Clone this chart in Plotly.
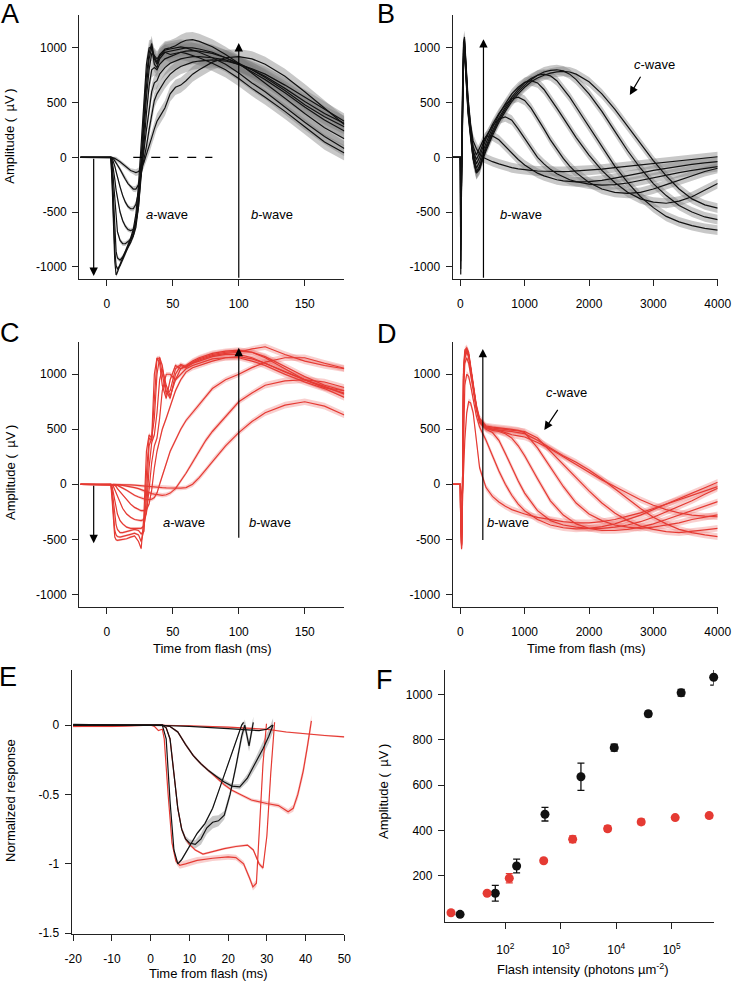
import plotly.graph_objects as go

# ======================= DATA =======================
# Panel A (black ERG, 0-180 ms)
tA = [-20, 3, 4, 5, 6, 7, 8, 10, 12, 14, 16, 18, 20, 22, 24, 26, 28, 30, 32, 34, 36, 38, 40, 44, 48, 52, 56, 60, 65, 70, 80, 90, 100, 110, 120, 135, 150, 165, 180]
A1 = [0, 0, -250, -650, -950, -1075, -1050, -980, -920, -860, -800, -740, -660, -520, -250, 150, 550, 850, 1000, 1010, 850, 820, 900, 960, 940, 950, 960, 950, 930, 910, 860, 800, 720, 630, 550, 420, 280, 140, 40]
A2 = [0, 0, -200, -550, -850, -990, -1020, -990, -940, -880, -820, -760, -690, -580, -350, 0, 400, 750, 950, 1040, 900, 850, 920, 980, 990, 1000, 1010, 1000, 980, 960, 910, 850, 770, 680, 600, 460, 320, 190, 80]
A3 = [0, 0, -120, -400, -700, -860, -920, -940, -910, -870, -830, -780, -720, -600, -400, -100, 300, 650, 900, 1000, 920, 870, 940, 990, 1000, 1020, 1050, 1070, 1075, 1060, 1010, 940, 860, 770, 680, 540, 400, 270, 170]
A4 = [0, 0, -60, -220, -420, -580, -680, -760, -790, -790, -770, -750, -720, -640, -450, -150, 200, 550, 800, 950, 930, 900, 930, 960, 970, 980, 990, 1000, 1000, 990, 960, 910, 850, 780, 710, 590, 460, 340, 240]
A5 = [0, 0, -30, -100, -200, -300, -380, -500, -580, -630, -660, -670, -660, -600, -450, -200, 100, 400, 650, 800, 820, 800, 850, 900, 920, 940, 960, 970, 975, 970, 950, 910, 860, 800, 730, 610, 480, 370, 280]
A6 = [0, 0, -10, -40, -80, -130, -180, -270, -350, -410, -450, -470, -470, -430, -320, -150, 50, 250, 450, 600, 680, 700, 760, 820, 860, 880, 900, 910, 920, 920, 910, 890, 850, 800, 740, 630, 510, 400, 310]
A7 = [0, 0, 0, -15, -30, -50, -70, -110, -160, -200, -240, -270, -290, -290, -250, -150, -30, 100, 250, 400, 520, 580, 620, 700, 760, 800, 830, 850, 870, 880, 890, 880, 850, 810, 760, 660, 550, 440, 330]
A8 = [0, 0, 0, -5, -10, -15, -25, -40, -60, -80, -100, -120, -130, -140, -130, -100, -50, 20, 100, 180, 260, 330, 370, 450, 580, 640, 660, 700, 760, 800, 870, 910, 920, 900, 850, 740, 600, 450, 300]
semA = [0, 0, 5, 10, 15, 20, 20, 20, 20, 20, 20, 20, 25, 30, 35, 40, 50, 60, 70, 70, 70, 70, 70, 70, 70, 70, 70, 70, 70, 70, 70, 70, 70, 70, 70, 70, 70, 70, 70]

# Panel B (black ERG, 0-4000 ms)
tB = [-120, 0, 3, 7, 15, 30, 50, 65, 90, 120, 160, 200, 250, 300, 350, 400, 500, 600, 700, 800, 900, 1000, 1100, 1200, 1300, 1400, 1500, 1600, 1700, 1800, 2000, 2200, 2400, 2600, 2800, 3000, 3200, 3400, 3600, 3800, 4000]
B1 = [0, 0, -500, -1070, -500, 500, 1050, 1100, 850, 550, 300, 150, 80, 30, 0, -15, -40, -60, -80, -95, -105, -115, -120, -125, -128, -130, -130, -130, -128, -125, -118, -108, -95, -82, -70, -58, -45, -33, -22, -10, 5]
B2 = [0, 0, -450, -1020, -480, 450, 1000, 1080, 820, 520, 280, 100, 20, 80, 150, 190, 195, 160, 100, 40, -20, -70, -110, -145, -170, -190, -205, -215, -222, -225, -222, -210, -190, -170, -145, -120, -100, -80, -65, -50, -40]
B3 = [0, 0, -350, -950, -450, 400, 980, 1060, 800, 500, 260, 60, -20, 40, 120, 190, 290, 350, 370, 340, 260, 170, 80, 0, -60, -110, -150, -180, -205, -222, -245, -255, -250, -235, -210, -185, -160, -140, -120, -100, -85]
B4 = [0, 0, -250, -850, -420, 350, 950, 1040, 780, 480, 250, 40, -60, 0, 90, 170, 300, 400, 480, 535, 550, 520, 450, 360, 260, 160, 70, -10, -80, -140, -230, -290, -320, -330, -320, -290, -250, -210, -170, -130, -100]
B5 = [0, 0, -150, -700, -400, 300, 920, 1020, 760, 460, 230, 20, -100, -40, 50, 130, 270, 390, 490, 580, 640, 685, 700, 680, 620, 540, 450, 360, 270, 180, 20, -120, -230, -320, -380, -410, -420, -400, -360, -300, -240]
B6 = [0, 0, -80, -500, -350, 250, 900, 1000, 750, 440, 220, 0, -130, -80, 20, 100, 240, 360, 460, 550, 620, 680, 720, 750, 760, 745, 700, 630, 550, 460, 280, 90, -80, -230, -360, -460, -540, -590, -625, -650, -665]
B7 = [0, 0, -40, -300, -250, 200, 880, 980, 730, 420, 200, -10, -140, -100, 0, 80, 220, 340, 440, 530, 600, 660, 710, 750, 780, 795, 800, 790, 760, 710, 580, 420, 240, 60, -100, -240, -350, -440, -500, -545, -570]
B8 = [0, 0, -20, -150, -150, 100, 850, 960, 700, 400, 180, -20, -145, -110, -20, 60, 200, 320, 420, 510, 580, 640, 690, 725, 750, 770, 780, 785, 780, 760, 690, 580, 440, 280, 120, -30, -170, -290, -380, -435, -465]
semB = [0, 0, 20, 30, 40, 50, 60, 60, 60, 60, 60, 60, 60, 50, 45, 45, 45, 45, 45, 45, 45, 45, 45, 45, 45, 45, 45, 45, 45, 45, 45, 45, 45, 45, 45, 45, 45, 45, 45, 45, 45]

# Panel C (red ERG, 0-180 ms)
tC = [-20, 3, 4, 5, 6, 7, 8, 10, 12, 15, 18, 21, 24, 26, 28, 30, 32, 34, 36, 38, 40, 42, 45, 48, 52, 56, 60, 65, 70, 75, 80, 90, 100, 110, 120, 135, 150, 165, 180]
C1 = [0, 0, -150, -380, -480, -505, -510, -505, -500, -495, -480, -470, -520, -585, -300, 300, 450, 420, 1000, 1150, 1100, 900, 780, 950, 1080, 1050, 1080, 1120, 1150, 1170, 1190, 1210, 1220, 1200, 1150, 1050, 950, 880, 830]
C2 = [0, 0, -100, -300, -420, -460, -475, -480, -475, -465, -455, -445, -460, -520, -420, 100, 420, 400, 800, 1140, 1150, 1000, 820, 850, 1050, 1090, 1070, 1110, 1140, 1160, 1180, 1200, 1210, 1200, 1160, 1070, 980, 900, 850]
C3 = [0, 0, -50, -180, -300, -370, -410, -440, -440, -430, -420, -410, -420, -450, -430, -100, 350, 420, 600, 1000, 1150, 1080, 850, 780, 1000, 1080, 1060, 1100, 1130, 1150, 1170, 1190, 1200, 1230, 1250, 1180, 1120, 1080, 1050]
C4 = [0, 0, -20, -80, -150, -220, -270, -330, -360, -390, -400, -400, -400, -400, -380, -250, 150, 380, 450, 650, 950, 1050, 900, 800, 950, 1050, 1070, 1100, 1120, 1140, 1160, 1180, 1180, 1150, 1100, 1020, 950, 890, 820]
C5 = [0, 0, -5, -20, -50, -80, -110, -170, -220, -270, -300, -320, -330, -330, -320, -260, -50, 200, 350, 420, 600, 850, 1000, 1000, 950, 1000, 1050, 1080, 1100, 1120, 1140, 1150, 1160, 1140, 1100, 1020, 950, 880, 850]
C6 = [0, 0, 0, -5, -10, -20, -40, -70, -100, -140, -180, -210, -230, -240, -240, -230, -180, -50, 150, 300, 400, 500, 600, 700, 850, 950, 1020, 1060, 1080, 1100, 1120, 1150, 1150, 1120, 1080, 1000, 930, 870, 790]
C7 = [0, 0, 0, 0, 0, -5, -10, -20, -35, -55, -80, -100, -115, -125, -135, -140, -140, -135, -120, -80, 0, 80, 200, 300, 400, 500, 580, 650, 720, 800, 870, 950, 1000, 1060, 1110, 1150, 1150, 1100, 1055]
C8 = [0, 0, 0, 0, 0, 0, 0, -5, -10, -15, -22, -30, -40, -50, -60, -70, -80, -85, -90, -95, -100, -100, -95, -80, -40, 30, 100, 200, 300, 400, 480, 620, 750, 830, 900, 940, 950, 930, 880]
C9 = [0, 0, 0, 0, 0, 0, 0, 0, 0, 0, -5, -8, -12, -14, -16, -18, -20, -22, -24, -26, -28, -30, -32, -34, -35, -35, -30, 0, 60, 130, 210, 350, 470, 570, 650, 720, 750, 710, 630]
semC = [0, 0, 5, 10, 10, 10, 10, 10, 10, 10, 10, 10, 10, 15, 15, 20, 20, 20, 20, 20, 20, 20, 20, 20, 20, 20, 20, 25, 25, 25, 25, 25, 25, 25, 30, 30, 30, 30, 30]

# Panel D (red ERG, 0-4000 ms)
tD = [-120, 0, 5, 10, 20, 30, 50, 70, 100, 130, 160, 200, 250, 300, 400, 500, 600, 700, 800, 900, 1000, 1200, 1400, 1600, 1800, 2000, 2200, 2400, 2600, 2800, 3000, 3200, 3400, 3600, 3800, 4000]
D1 = [0, 0, -20, -50, -120, -130, 100, 400, 650, 750, 740, 650, 400, 150, -30, -110, -160, -200, -230, -250, -270, -300, -320, -340, -350, -350, -340, -320, -290, -260, -220, -180, -140, -100, -60, -21]
D2 = [0, 0, -100, -300, -450, -300, 500, 900, 1000, 980, 900, 780, 620, 520, 400, 260, 120, 0, -100, -180, -240, -320, -370, -395, -405, -400, -385, -360, -320, -280, -230, -180, -130, -80, -30, 18]
D3 = [0, 0, -200, -450, -550, -350, 800, 1100, 1150, 1100, 1000, 850, 680, 560, 500, 470, 400, 280, 150, 30, -80, -240, -330, -370, -390, -400, -400, -390, -370, -340, -300, -250, -200, -150, -90, -36]
D4 = [0, 0, -300, -520, -590, -300, 1000, 1200, 1230, 1180, 1050, 880, 700, 580, 510, 490, 480, 460, 420, 350, 260, 50, -150, -280, -360, -400, -420, -420, -410, -390, -360, -320, -280, -240, -200, -158]
D5 = [0, 0, -300, -500, -580, -300, 1050, 1220, 1240, 1200, 1080, 900, 720, 600, 530, 520, 515, 510, 500, 490, 470, 330, 150, -20, -170, -270, -330, -370, -390, -400, -390, -370, -350, -320, -300, -278]
D6 = [0, 0, -280, -480, -560, -280, 1000, 1180, 1220, 1180, 1060, 880, 700, 580, 520, 510, 505, 500, 495, 490, 480, 420, 300, 180, 60, -60, -170, -260, -330, -380, -410, -430, -440, -430, -415, -400]
D7 = [0, 0, -250, -460, -540, -250, 950, 1150, 1200, 1160, 1040, 860, 690, 570, 510, 500, 495, 490, 480, 470, 460, 400, 330, 260, 200, 130, 50, -40, -130, -220, -300, -360, -410, -440, -460, -476]
D8 = [0, 0, -260, -470, -550, -260, 980, 1170, 1210, 1170, 1050, 870, 700, 580, 520, 500, 490, 470, 450, 440, 430, 380, 320, 250, 180, 110, 40, -20, -80, -140, -190, -230, -260, -280, -290, -295]
semD = [0, 0, 10, 15, 20, 20, 30, 30, 30, 30, 30, 30, 30, 30, 30, 30, 30, 30, 30, 30, 30, 30, 30, 30, 30, 30, 30, 30, 30, 30, 30, 30, 30, 30, 30, 30]

# Panel E (normalized a-waves)
EK1_t = [-20, 0, 3, 4, 5, 6, 7, 8, 10, 12, 14, 16, 18, 20, 22, 23.5, 24]
EK1_v = [0, 0, 0, -0.1, -0.55, -0.9, -1.0, -0.97, -0.87, -0.78, -0.71, -0.6, -0.44, -0.28, -0.12, 0.0, 0.02]
EK1_s = [0, 0, 0, 0.005, 0.01, 0.01, 0.01, 0.01, 0.01, 0.01, 0.01, 0.01, 0.01, 0.01, 0.01, 0.01, 0.01]
EK2_t = [-20, 0, 3, 4, 5, 6, 7, 8, 9, 10, 11.5, 13, 14.5, 16, 17.5, 19, 20.5, 22, 23.5, 24.3, 25.4, 26.5]
EK2_v = [0, 0, 0, -0.02, -0.1, -0.35, -0.6, -0.75, -0.82, -0.85, -0.86, -0.82, -0.74, -0.7, -0.69, -0.65, -0.5, -0.3, -0.08, 0.0, -0.15, 0.02]
EK2_s = [0, 0, 0, 0.005, 0.01, 0.015, 0.02, 0.02, 0.02, 0.025, 0.03, 0.04, 0.045, 0.045, 0.04, 0.03, 0.03, 0.03, 0.04, 0.04, 0.04, 0.04]
EK3_t = [-20, 0, 3, 5, 7, 9, 11, 13, 15, 17, 19, 21, 23, 25, 27, 29, 30.5, 31.6]
EK3_v = [0, 0, 0, -0.01, -0.05, -0.14, -0.22, -0.28, -0.33, -0.37, -0.41, -0.44, -0.445, -0.38, -0.28, -0.17, -0.08, 0.0]
EK3_s = [0, 0, 0, 0.005, 0.01, 0.01, 0.01, 0.01, 0.01, 0.01, 0.015, 0.015, 0.02, 0.03, 0.04, 0.05, 0.05, 0.05]
EK4_t = [-20, 0, 5, 10, 15, 20, 25, 28, 30, 31.5]
EK4_v = [0.005, 0, -0.005, -0.01, -0.015, -0.025, -0.035, -0.04, -0.03, 0.0]
EK4_s = [0, 0, 0, 0, 0, 0, 0, 0, 0, 0]
ER1_t = [-20, 0, 1, 2, 3, 3.5, 4.5, 5.5, 6.5, 7.5, 9, 12, 16, 20, 22, 24, 25.5, 26.4, 27.3, 28.1, 29, 29.9]
ER1_v = [-0.01, 0, -0.01, -0.04, -0.03, -0.1, -0.5, -0.85, -0.98, -1.01, -1.0, -0.975, -0.96, -0.95, -0.955, -1.0, -1.1, -1.167, -1.14, -0.76, -0.28, 0.01]
ER1_s = [0.005, 0, 0, 0, 0, 0.01, 0.01, 0.015, 0.02, 0.025, 0.025, 0.025, 0.02, 0.02, 0.02, 0.02, 0.02, 0.025, 0.025, 0.02, 0.02, 0.02]
ER2_t = [-20, 0, 3, 4, 5, 6, 7, 8, 9, 10, 11.5, 13.5, 16, 19, 22, 25, 26.5, 28, 29, 30, 31, 32]
ER2_v = [0, 0, 0, -0.02, -0.1, -0.35, -0.6, -0.75, -0.82, -0.86, -0.9, -0.93, -0.91, -0.89, -0.875, -0.865, -0.9, -1.0, -1.03, -0.8, -0.35, 0.02]
ER2_s = [0, 0, 0, 0, 0.005, 0.005, 0.005, 0.005, 0.005, 0.005, 0.008, 0.008, 0.008, 0.008, 0.008, 0.008, 0.01, 0.015, 0.015, 0.015, 0.015, 0.015]
ER3_t = [-20, 0, 3, 5, 7, 9, 11, 13, 15, 17, 19, 21, 23, 26, 30, 33, 35.5, 36.8, 38, 39.4, 40.5, 41.5]
ER3_v = [-0.01, 0, 0, -0.01, -0.05, -0.14, -0.22, -0.28, -0.33, -0.38, -0.43, -0.47, -0.5, -0.54, -0.565, -0.58, -0.625, -0.6, -0.5, -0.33, -0.15, 0.03]
ER3_s = [0.005, 0, 0, 0, 0.005, 0.01, 0.01, 0.01, 0.01, 0.01, 0.01, 0.01, 0.01, 0.012, 0.015, 0.015, 0.02, 0.025, 0.035, 0.04, 0.04, 0.04]
ER4_t = [-20, -10, 0, 5, 10, 20, 30, 35, 40, 45, 50]
ER4_v = [-0.01, -0.01, 0, 0, -0.005, -0.015, -0.03, -0.05, -0.065, -0.075, -0.085]
ER4_s = [0.005, 0.005, 0, 0, 0.003, 0.004, 0.005, 0.006, 0.006, 0.006, 0.006]

# Panel F (intensity-response)
F_black_x = [15.3, 66, 160, 519, 2310, 9200, 37800, 148000, 571000]
F_black_y = [31, 124, 244, 472, 637, 765, 914, 1007, 1075]
F_black_err = [5, 35, 30, 30, 60, 15, 12, 15, 35]
F_red_x = [10.5, 47, 118, 492, 1640, 7000, 28200, 115600, 474000]
F_red_y = [38, 124, 190, 267, 362, 408, 438, 457, 466]
F_red_err = [5, 5, 20, 8, 15, 12, 12, 5, 10]

# ======================= STYLE =======================
W, H = 732, 982
BLACK = '#111111'
RED = '#e53a33'
GRAY_BAND = 'rgba(125,125,125,0.42)'
RED_BAND = 'rgba(238,110,105,0.33)'
FONT = 'Arial, Liberation Sans, sans-serif'

fig = go.Figure()


def band(x, y, sem, xa, ya, color):
    up = [v + s for v, s in zip(y, sem)]
    lo = [v - s for v, s in zip(y, sem)]
    fig.add_trace(go.Scatter(x=x, y=up, mode='lines', line=dict(width=0, color=color),
                             hoverinfo='skip', showlegend=False, xaxis=xa, yaxis=ya))
    fig.add_trace(go.Scatter(x=x, y=lo, mode='lines', line=dict(width=0, color=color),
                             fill='tonexty', fillcolor=color,
                             hoverinfo='skip', showlegend=False, xaxis=xa, yaxis=ya))


def line(x, y, xa, ya, color, w=1.2):
    fig.add_trace(go.Scatter(x=x, y=y, mode='lines', line=dict(color=color, width=w),
                             showlegend=False, xaxis=xa, yaxis=ya))


panels = [
    ('x', 'y', tA, [A1, A2, A3, A4, A5, A6, A7, A8], semA, BLACK, GRAY_BAND),
    ('x2', 'y2', tB, [B1, B2, B3, B4, B5, B6, B7, B8], semB, BLACK, GRAY_BAND),
    ('x3', 'y3', tC, [C1, C2, C3, C4, C5, C6, C7, C8, C9], semC, RED, RED_BAND),
    ('x4', 'y4', tD, [D1, D2, D3, D4, D5, D6, D7, D8], semD, RED, RED_BAND),
]
for xa, ya, t, traces, sem, col, bcol in panels:
    for v in traces:
        band(t, v, sem, xa, ya, bcol)
    for v in traces:
        line(t, v, xa, ya, col)

# Panel E
E_black = [(EK1_t, EK1_v, EK1_s), (EK2_t, EK2_v, EK2_s), (EK3_t, EK3_v, EK3_s), (EK4_t, EK4_v, EK4_s)]
E_red = [(ER1_t, ER1_v, ER1_s), (ER2_t, ER2_v, ER2_s), (ER3_t, ER3_v, ER3_s), (ER4_t, ER4_v, ER4_s)]
for t, v, s in E_red:
    band(t, v, s, 'x5', 'y5', RED_BAND)
for t, v, s in E_black:
    band(t, v, s, 'x5', 'y5', GRAY_BAND)
for t, v, s in E_red:
    line(t, v, 'x5', 'y5', RED)
for t, v, s in E_black:
    line(t, v, 'x5', 'y5', BLACK)

# Panel F
fig.add_trace(go.Scatter(x=F_black_x, y=F_black_y, mode='markers',
                         marker=dict(color=BLACK, size=9),
                         error_y=dict(type='data', array=F_black_err, color=BLACK, thickness=1.3, width=3.5),
                         cliponaxis=False, showlegend=False, xaxis='x6', yaxis='y6'))
fig.add_trace(go.Scatter(x=F_red_x, y=F_red_y, mode='markers',
                         marker=dict(color=RED, size=9),
                         error_y=dict(type='data', array=F_red_err, color=RED, thickness=1.3, width=3.5),
                         cliponaxis=False, showlegend=False, xaxis='x6', yaxis='y6'))

# ======================= AXES =======================
def dx(a, b):
    return [a / W, b / W]


def dy(top, bottom):
    return [1 - bottom / H, 1 - top / H]


base = dict(showline=True, linecolor='#222', linewidth=1.3, ticks='outside', ticklen=6,
            tickwidth=1.2, tickcolor='#222', showgrid=False, zeroline=False, automargin=False,
            tickfont=dict(family=FONT, size=12, color='#000'))

ampl_vals = [-1000, -500, 0, 500, 1000]
ampl_txt = ['-1000', '-500', '0', '500', '1000']
ms_vals = [0, 50, 100, 150]
long_vals = [0, 1000, 2000, 3000, 4000]

layout_axes = {}
geo = {
    '': (79.3, 344.3, 15.3, 279.3),
    '2': (452.7, 717.7, 15.3, 279.3),
    '3': (79.3, 344.3, 341.7, 607.3),
    '4': (452.7, 717.7, 341.7, 607.3),
    '5': (71.7, 344.3, 670, 934.3),
    '6': (445, 713.7, 670, 922.3),
}
xr = {'': [-20.9, 180], '2': [-118, 4000], '3': [-20.9, 180], '4': [-118, 4000],
      '5': [-20.4, 50], '6': [0.913, 5.757]}
yr = {'': [-1115, 1298], '2': [-1115, 1298], '3': [-1118, 1296], '4': [-1118, 1296],
      '5': [-1.508, 0.397], '6': [-4, 1107]}
for k, (x0, x1, t0, b0) in geo.items():
    xa = dict(base, domain=dx(x0, x1), range=xr[k], anchor='y' + k, ticklabelstandoff=7)
    ya = dict(base, domain=dy(t0, b0), range=yr[k], anchor='x' + k, ticklabelstandoff=3)
    if k in ('', '3'):
        xa.update(tickvals=ms_vals, ticktext=[str(v) for v in ms_vals])
    if k in ('2', '4'):
        xa.update(tickvals=long_vals, ticktext=[str(v) for v in long_vals])
    if k in ('', '2', '3', '4'):
        ya.update(tickvals=ampl_vals, ticktext=ampl_txt)
    if k == '5':
        xa.update(tickvals=[-20, -10, 0, 10, 20, 30, 40, 50],
                  ticktext=['-20', '-10', '0', '10', '20', '30', '40', '50'])
        ya.update(tickvals=[0, -0.5, -1, -1.5], ticktext=['0', '-0.5', '-1', '-1.5'])
    if k == '6':
        xa.update(type='log', tickvals=[100, 1000, 10000, 100000],
                  ticktext=['10<sup>2</sup>', '10<sup>3</sup>', '10<sup>4</sup>', '10<sup>5</sup>'],
                  ticklabelstandoff=10)
        ya.update(tickvals=[200, 400, 600, 800, 1000], ticktext=['200', '400', '600', '800', '1000'])
    layout_axes['xaxis' + k] = xa
    layout_axes['yaxis' + k] = ya

fig.update_layout(**layout_axes)

# ======================= ANNOTATIONS =======================
ann = []


def paper_text(x, y, text, size=13, angle=0):
    ann.append(dict(x=x / W, y=1 - y / H, xref='paper', yref='paper', text=text, showarrow=False,
                    textangle=angle, xanchor='center', yanchor='middle',
                    font=dict(family=FONT, size=size, color='#000')))


for lbl, (x, y) in {'A': (10.3, 14), 'B': (386, 14), 'C': (10, 332.5), 'D': (386.8, 333.5),
                    'E': (8, 677), 'F': (384, 680)}.items():
    paper_text(x, y, lbl, size=27)

AMP = 'Amplitude (\u2002\u00b5V\u2009)'
paper_text(10, 136.7, AMP, angle=-90)
paper_text(10, 473, AMP, angle=-90)
paper_text(10, 801, 'Normalized response', angle=-90)
paper_text(383, 792, AMP, angle=-90)
paper_text(212, 648, 'Time from flash (ms)')
paper_text(586, 648, 'Time from flash (ms)')
paper_text(208, 973, 'Time from flash (ms)')
paper_text(582.7, 969, 'Flash intensity (photons \u00b5m<sup>-2</sup>)')


def data_text(xa, ya, x, y, text):
    ann.append(dict(x=x, y=y, xref=xa, yref=ya, text=text, showarrow=False,
                    xanchor='center', yanchor='middle',
                    font=dict(family=FONT, size=13, color='#000')))


def arrow(xa, ya, x_tail, y_tail, x_tip, y_tip):
    ann.append(dict(x=x_tip, y=y_tip, ax=x_tail, ay=y_tail, xref=xa, yref=ya,
                    axref=xa, ayref=ya, text='', showarrow=True, arrowhead=2,
                    arrowsize=1.4, arrowwidth=1.2, arrowcolor='#000'))


data_text('x', 'y', 45.8, -521, '<i>a</i>-wave')
data_text('x', 'y', 125, -521, '<i>b</i>-wave')
arrow('x', 'y', -10, 0, -10, -1085)
arrow('x', 'y', 100, -1115, 100, 1045)

data_text('x2', 'y2', 944, -521, '<i>b</i>-wave')
data_text('x2', 'y2', 3012, 850, '<i>c</i>-wave')
arrow('x2', 'y2', 360, -1115, 360, 1080)
arrow('x2', 'y2', 2815, 750, 2634, 570)

data_text('x3', 'y3', 58.6, -345, '<i>a</i>-wave')
data_text('x3', 'y3', 124, -345, '<i>b</i>-wave')
arrow('x3', 'y3', -10, 0, -10, -535)
arrow('x3', 'y3', 100, -500, 100, 1240)

data_text('x4', 'y4', 737, -349, '<i>b</i>-wave')
data_text('x4', 'y4', 1644, 833, '<i>c</i>-wave')
arrow('x4', 'y4', 350, -520, 350, 1230)
arrow('x4', 'y4', 1530, 690, 1306, 494)

fig.update_layout(annotations=ann,
                  shapes=[dict(type='line', xref='x', yref='y', x0=20, x1=80, y0=0, y1=0,
                               line=dict(color='#000', width=1.2, dash='dash'))])

fig.update_layout(width=W, height=H, margin=dict(l=0, r=0, t=0, b=0),
                  paper_bgcolor='white', plot_bgcolor='white', showlegend=False,
                  font=dict(family=FONT, size=12, color='#000'))

fig.write_html('out.html', config={'displayModeBar': False},
               post_script="document.body.style.margin='0';document.body.style.padding='0';"
                           "document.documentElement.style.overflow='hidden';"
                           "document.body.style.overflow='hidden';")
